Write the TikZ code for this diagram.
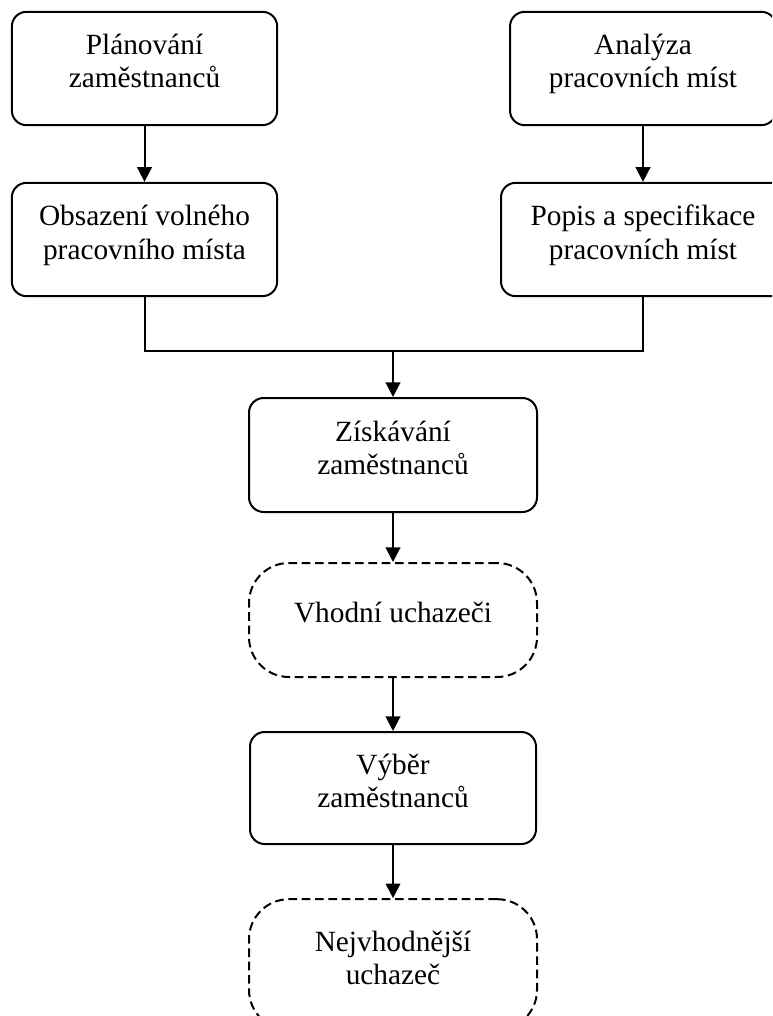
\documentclass[tikz,border=0pt]{standalone}
\usepackage{fontspec}
\setmainfont{Liberation Serif}
\usetikzlibrary{arrows.meta}

\begin{document}
\begin{tikzpicture}[x=0.75pt, y=-0.75pt,
    box/.style={draw, line width=1.5pt, rounded corners=11pt, align=center,
        minimum width=199pt, minimum height=85pt, inner sep=0pt,
        text height=44pt, text depth=14.75pt,
        font=\fontsize{22pt}{24.75pt}\selectfont},
    dashbox/.style={box, dash pattern=on 6.5pt off 3.5pt, rounded corners=30pt, minimum width=216pt},
    flow/.style={line width=1.5pt, -{Triangle[length=11pt, width=11pt]}}]
        % Page frame
        \useasboundingbox (0,0) rectangle (772,1016);
        \clip (0,0) rectangle (772,1016);

        % Left branch
        \node[box] (plan) at (144.5,68.5) {Plánování\\zaměstnanců};
        \node[box] (obsaz) at (144.5,239.5) {Obsazení volného\\pracovního místa};
        \draw[flow] (plan) -- (obsaz);

        % Right branch
        \node[box, minimum width=199.5pt] (anal) at (643,68.5) {Analýza\\pracovních míst};
        \node[box, minimum width=213pt] (popis) at (643,239.5) {Popis a specifikace\\pracovních míst};
        \draw[flow] (anal) -- (popis);

        % Joining line
        \coordinate (join) at (393,351);
        \draw[line width=1.5pt] (obsaz.south) |- (join) -| (popis.south);

        % Main column
        \node[box, minimum width=216pt, minimum height=85.5pt] (zisk) at (393,455) {Získávání\\zaměstnanců};
        \node[dashbox, minimum height=85.5pt, text height=15pt, text depth=12pt] (vhod) at (393,620) {Vhodní uchazeči};
        \node[box, minimum width=214.5pt, minimum height=84pt] (vyber) at (393,788) {Výběr\\zaměstnanců};
        \node[dashbox, minimum height=98pt] (nejv) at (393,964.5) {Nejvhodnější\\uchazeč};

        \draw[flow] (join) -- (zisk);
        \draw[flow] (zisk) -- (vhod);
        \draw[flow] (vhod) -- (vyber);
        \draw[flow] (vyber) -- (nejv);
\end{tikzpicture}
\end{document}
